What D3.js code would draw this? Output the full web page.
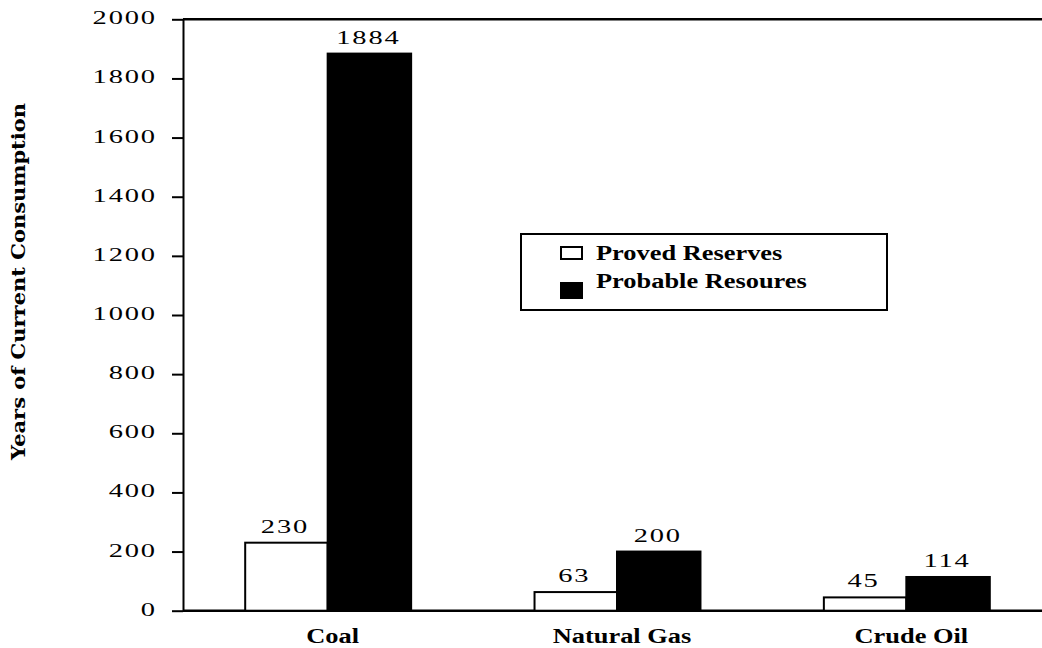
<!DOCTYPE html>
<html>
<head>
<meta charset="utf-8">
<script src="https://cdn.jsdelivr.net/npm/d3@7"></script>
<style>
  html, body { margin: 0; padding: 0; background: #fff; }
  svg { display: block; }
</style>
</head>
<body>
<svg id="chart" width="1042" height="648"></svg>
<script>
// Years of supply at current consumption rates, by fuel
const categories = ["Coal", "Natural Gas", "Crude Oil"];
const provedReserves = [230, 63, 45];
const probableResources = [1884, 200, 114];
const seriesNames = ["Proved Reserves", "Probable Resoures"];
const yTickValues = [0, 200, 400, 600, 800, 1000, 1200, 1400, 1600, 1800, 2000];
const yTitle = "Years of Current Consumption";

const svg = d3.select("#chart");
const W = 1042;

const plot = { left: 183, right: 1042, top: 19.3, bottom: 610.7 };

const y = d3.scaleLinear().domain([0, 2000]).range([plot.bottom, plot.top]);
const x0 = d3.scaleBand().domain(categories).range([plot.left, 1051])
  .paddingInner(0.423).paddingOuter(0.2115);
const x1 = d3.scaleBand().domain(["proved", "probable"]).range([0, x0.bandwidth()]);

const rows = categories.map((c, i) => ({
  cat: c,
  values: [
    { key: "proved", v: provedReserves[i] },
    { key: "probable", v: probableResources[i] }
  ]
}));

const numFont = "'Liberation Serif', 'Times New Roman', serif";
const sx = 1.5;         // horizontal stretch for numerals
const numSpacing = 1.2; // extra spacing between numerals (before stretch)
const numSize = "19px";

// Y axis
const yAxis = d3.axisLeft(y).tickValues(yTickValues).tickSize(11).tickSizeOuter(0)
  .tickFormat(d3.format("d"));
const gy = svg.append("g").attr("transform", `translate(${plot.left},0)`).call(yAxis);
gy.select(".domain").attr("stroke", "#000").attr("stroke-width", 2);
gy.selectAll(".tick line").attr("stroke", "#000").attr("stroke-width", 2);
gy.selectAll(".tick text")
  .attr("x", null).attr("dy", null)
  .attr("transform", `translate(${-28 + numSpacing * sx},4.5) scale(${sx},1)`)
  .attr("text-anchor", "end")
  .style("font-family", numFont)
  .style("font-size", numSize)
  .style("letter-spacing", numSpacing + "px")
  .attr("fill", "#000");

// Top frame line and baseline
svg.append("line")
  .attr("x1", plot.left).attr("x2", W)
  .attr("y1", y(2000)).attr("y2", y(2000))
  .attr("stroke", "#000").attr("stroke-width", 2.5);
svg.append("line")
  .attr("x1", plot.left).attr("x2", W)
  .attr("y1", y(0)).attr("y2", y(0))
  .attr("stroke", "#000").attr("stroke-width", 2.5);

// Bars
const groups = svg.append("g").selectAll("g").data(rows).join("g")
  .attr("transform", d => `translate(${x0(d.cat)},0)`);

groups.selectAll("rect").data(d => d.values).join("rect")
  .attr("x", d => x1(d.key) + (d.key === "proved" ? 1 : 0))
  .attr("y", d => y(d.v))
  .attr("width", d => x1.bandwidth() - (d.key === "proved" ? 1 : 0))
  .attr("height", d => y(0) - y(d.v))
  .attr("fill", d => d.key === "proved" ? "#fff" : "#000")
  .attr("stroke", "#000")
  .attr("stroke-width", 2);

// Value labels
groups.selectAll("text.val").data(d => d.values).join("text")
  .attr("class", "val")
  .attr("transform", d => `translate(${x1(d.key) + x1.bandwidth() / 2 - 1},${y(d.v) - 10}) scale(${sx},1)`)
  .attr("text-anchor", "middle")
  .style("font-family", numFont)
  .style("font-size", numSize)
  .style("letter-spacing", numSpacing + "px")
  .attr("fill", "#000")
  .text(d => d.v);

// Category axis
const xAxis = d3.axisBottom(x0).tickSize(0).tickPadding(0);
const gx = svg.append("g").attr("transform", `translate(0,${y(0)})`).call(xAxis);
gx.select(".domain").remove();
gx.selectAll(".tick text")
  .attr("y", null).attr("dy", null)
  .attr("transform", `translate(5,32) scale(1.2,1)`)
  .attr("text-anchor", "middle")
  .style("font-family", numFont)
  .style("font-weight", "bold")
  .style("font-size", "22px")
  .attr("fill", "#000");

// Y axis title
svg.append("text")
  .attr("transform", `translate(25,${(103 + 460) / 2}) rotate(-90)`)
  .attr("text-anchor", "middle")
  .attr("textLength", 357)
  .attr("lengthAdjust", "spacingAndGlyphs")
  .style("font-family", "'DejaVu Serif', serif")
  .style("font-weight", "bold")
  .style("font-size", "18px")
  .attr("fill", "#000")
  .text(yTitle);

// Legend
const legend = svg.append("g");
legend.append("rect")
  .attr("x", 521).attr("y", 234).attr("width", 366).attr("height", 76)
  .attr("fill", "#fff").attr("stroke", "#000").attr("stroke-width", 2);

const legendRows = [
  { name: seriesNames[0], fill: "#fff", sy: 247, sh: 12, ty: 260 },
  { name: seriesNames[1], fill: "#000", sy: 282, sh: 17, ty: 288 }
];
const li = legend.selectAll("g").data(legendRows).join("g");
li.append("rect")
  .attr("x", d => d.fill === "#fff" ? 561 : 560)
  .attr("y", d => d.sy)
  .attr("width", d => d.fill === "#fff" ? 21 : 23)
  .attr("height", d => d.sh)
  .attr("fill", d => d.fill)
  .attr("stroke", d => d.fill === "#fff" ? "#000" : "none")
  .attr("stroke-width", 2);
li.append("text")
  .attr("transform", d => `translate(596,${d.ty}) scale(1.2,1)`)
  .style("font-family", numFont)
  .style("font-weight", "bold")
  .style("font-size", "22px")
  .attr("fill", "#000")
  .text(d => d.name);
</script>
</body>
</html>
